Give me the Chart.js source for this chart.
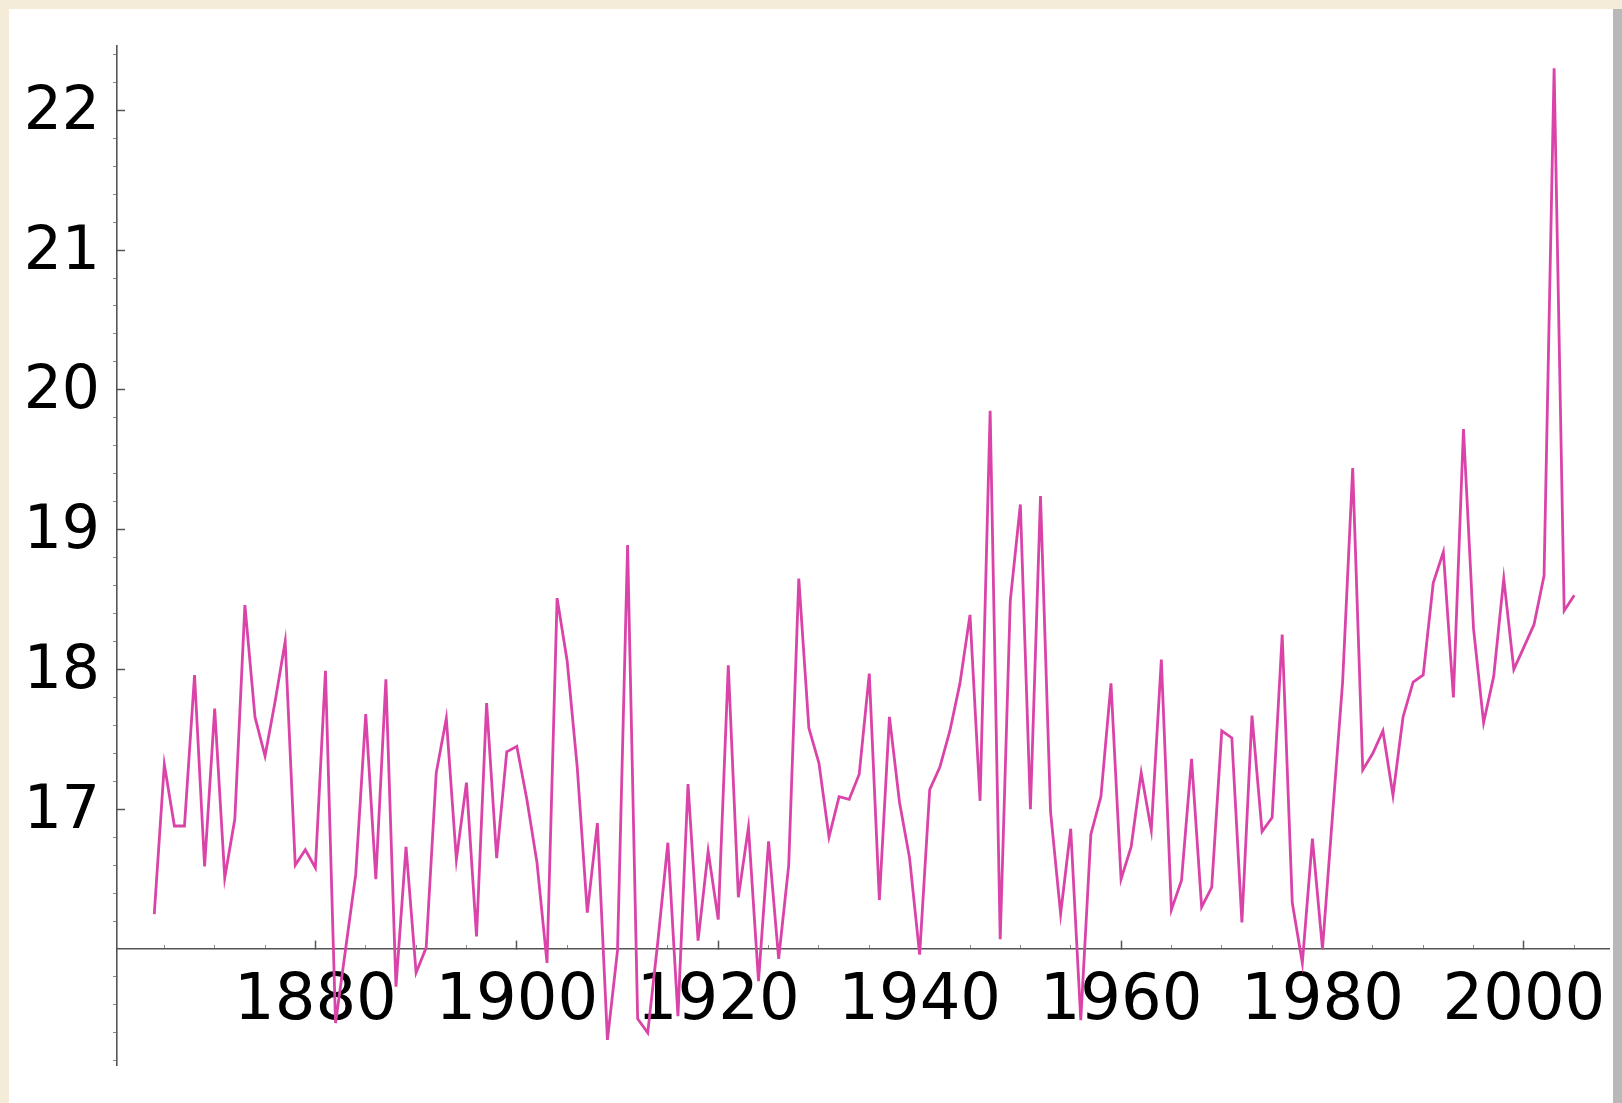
<!DOCTYPE html>
<html><head><meta charset="utf-8">
<script src="https://cdn.jsdelivr.net/npm/chart.js@4.4.0/dist/chart.umd.min.js"></script>
<style>
html,body{margin:0;padding:0;background:#f4ebd8;width:1622px;height:1103px;overflow:hidden;}
#panel{position:absolute;left:9px;top:9px;width:1604px;height:1094px;background:#ffffff;}
#edge{position:absolute;left:1613px;top:9px;width:9px;height:1094px;background:#b8b8b8;}
#wrap{position:absolute;left:0;top:0;width:1622px;height:1103px;}
</style></head><body>
<div id="panel"></div><div id="edge"></div>
<div id="wrap"><canvas id="c" width="1622" height="1103"></canvas></div>
<script>
const years = [
 1864,1865,1866,1867,1868,1869,1870,1871,1872,1873,
 1874,1875,1876,1877,1878,1879,1880,1881,1882,1883,
 1884,1885,1886,1887,1888,1889,1890,1891,1892,1893,
 1894,1895,1896,1897,1898,1899,1900,1901,1902,1903,
 1904,1905,1906,1907,1908,1909,1910,1911,1912,1913,
 1914,1915,1916,1917,1918,1919,1920,1921,1922,1923,
 1924,1925,1926,1927,1928,1929,1930,1931,1932,1933,
 1934,1935,1936,1937,1938,1939,1940,1941,1942,1943,
 1944,1945,1946,1947,1948,1949,1950,1951,1952,1953,
 1954,1955,1956,1957,1958,1959,1960,1961,1962,1963,
 1964,1965,1966,1967,1968,1969,1970,1971,1972,1973,
 1974,1975,1976,1977,1978,1979,1980,1981,1982,1983,
 1984,1985,1986,1987,1988,1989,1990,1991,1992,1993,
 1994,1995,1996,1997,1998,1999,2000,2001,2002,2003,
 2004,2005
];
const values = [
 16.25,17.32,16.88,16.88,17.96,16.59,17.72,16.51,16.93,18.46,
 17.66,17.38,17.77,18.20,16.60,16.71,16.58,17.99,15.47,16.00,
 16.53,17.68,16.50,17.93,15.73,16.73,15.83,16.01,17.26,17.65,
 16.64,17.19,16.09,17.76,16.65,17.41,17.45,17.07,16.62,15.90,
 18.51,18.06,17.30,16.26,16.90,15.35,15.99,18.89,15.50,15.40,
 16.05,16.76,15.52,17.18,16.06,16.70,16.21,18.03,16.37,16.87,
 15.77,16.77,15.93,16.60,18.65,17.58,17.33,16.80,17.09,17.07,
 17.25,17.97,16.35,17.66,17.05,16.65,15.96,17.14,17.30,17.56,
 17.90,18.39,17.06,19.85,16.07,18.49,19.18,17.00,19.24,16.98,
 16.25,16.86,15.49,16.82,17.09,17.90,16.50,16.73,17.26,16.85,
 18.07,16.28,16.49,17.36,16.30,16.44,17.56,17.51,16.19,17.67,
 16.84,16.94,18.25,16.33,15.90,16.79,16.00,16.96,17.91,19.44,
 17.28,17.40,17.56,17.10,17.66,17.91,17.96,18.62,18.84,17.80,
 19.72,18.29,17.62,17.95,18.65,18.00,18.16,18.32,18.67,22.30,
 18.42,18.53
];
const xTickLabels = [1880,1900,1920,1940,1960,1980,2000];
const yTickLabels = [17,18,19,20,21,22];
const xMinorTicks = [1865,1870,1875,1885,1890,1895,1905,1910,1915,1925,1930,1935,1945,1950,1955,1965,1970,1975,1985,1990,1995,2005];
const yMinorTicks = [15.2,15.4,15.6,15.8,16.2,16.4,16.6,16.8,17.2,17.4,17.6,17.8,18.2,18.4,18.6,18.8,19.2,19.4,19.6,19.8,20.2,20.4,20.6,20.8,21.2,21.4,21.6,21.8,22.2,22.4];

const X_MIN = 1860.3, X_MAX = 2008.45, Y_MIN = 15.17, Y_MAX = 22.46, CROSS_Y = 16;
const AXIS = '#555555';
const FONT = 'DejaVu Sans';

function noPadX(s) { s.paddingLeft = 0; s.paddingRight = 0; s.paddingTop = 0; s.paddingBottom = 0; }

new Chart(document.getElementById('c'), {
  type: 'line',
  data: { datasets: [{
    data: years.map((x, i) => ({ x: x, y: values[i] })),
    borderColor: '#da44a9', borderWidth: 2.8, pointRadius: 0, tension: 0, fill: false
  }]},
  options: {
    responsive: false, animation: false, events: [],
    layout: { padding: { left: 0, top: 46, right: 13, bottom: 38 } },
    plugins: { legend: { display: false }, tooltip: { enabled: false } },
    scales: {
      x: {
        type: 'linear', min: X_MIN, max: X_MAX, position: { y: CROSS_Y },
        afterFit: noPadX,
        afterBuildTicks: s => { s.ticks = xTickLabels.map(v => ({ value: v })); },
        grid: { drawOnChartArea: false, drawTicks: true, tickLength: -9, tickWidth: 1.5, tickColor: AXIS },
        border: { display: true, color: AXIS, width: 1.6 },
        ticks: { padding: 24, font: { family: FONT, size: 64 }, color: '#000', maxRotation: 0, autoSkip: false, callback: v => String(v) }
      },
      x2: {
        type: 'linear', axis: 'x', min: X_MIN, max: X_MAX, position: { y: CROSS_Y },
        afterFit: noPadX,
        afterBuildTicks: s => { s.ticks = xMinorTicks.map(v => ({ value: v })); },
        grid: { drawOnChartArea: false, drawTicks: true, tickLength: -4, tickWidth: 1, tickColor: '#888' },
        border: { display: false },
        ticks: { display: false }
      },
      y: {
        type: 'linear', min: Y_MIN, max: Y_MAX, position: 'left',
        afterFit: s => { s.width = 117; noPadX(s); },
        afterBuildTicks: s => { s.ticks = yTickLabels.map(v => ({ value: v })); },
        grid: { drawOnChartArea: false, drawTicks: true, tickLength: -8, tickWidth: 1.5, tickColor: AXIS },
        border: { display: true, color: AXIS, width: 1.6 },
        ticks: { padding: 25, labelOffset: 3, font: { family: FONT, size: 60 }, color: '#000', autoSkip: false, callback: v => String(v) }
      },
      y2: {
        type: 'linear', axis: 'y', min: Y_MIN, max: Y_MAX, position: { x: X_MIN },
        afterFit: noPadX,
        afterBuildTicks: s => { s.ticks = yMinorTicks.map(v => ({ value: v })); },
        grid: { drawOnChartArea: false, drawTicks: true, tickLength: 4, tickWidth: 1, tickColor: '#888' },
        border: { display: false },
        ticks: { display: false }
      }
    }
  }
});
</script>
</body></html>
